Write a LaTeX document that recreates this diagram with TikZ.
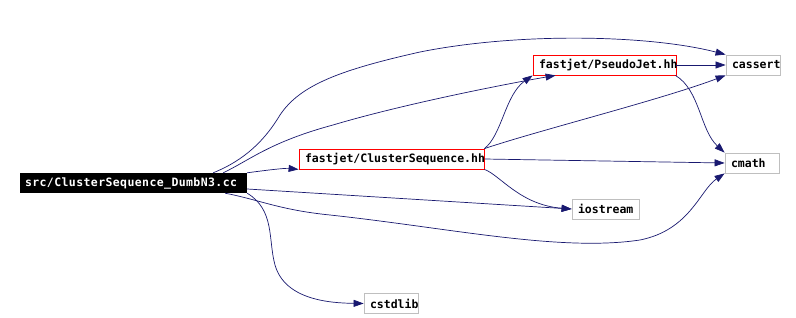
\documentclass[tikz,border=0pt]{standalone}
\usepackage{fontspec}
\usepackage{xcolor}
\newfontfamily\codefont{DejaVu Sans Mono}
\newfontfamily\srccodefont[LetterSpace=3.5]{DejaVu Sans Mono}
\usetikzlibrary{arrows.meta}
\definecolor{edgeblue}{HTML}{191970}
\definecolor{sysgray}{HTML}{BFBFBF}

\begin{document}
\begin{tikzpicture}[x=1pt,y=-1pt,>={Triangle[length=10pt,width=7pt]},
  every node/.style={font=\codefont\bfseries\fontsize{11.5}{12}\selectfont,inner xsep=6pt,inner ysep=0pt,
    minimum height=20pt,align=left},
  srcfile/.style={fill=black,text=white,inner xsep=5pt,font=\srccodefont\bfseries\fontsize{11.5}{12}\selectfont},
  hdrfile/.style={draw=red,fill=white,line width=0.8pt},
  sysfile/.style={draw=sysgray,fill=white,line width=0.8pt},
  dep/.style={draw=edgeblue,line width=0.7pt,->,edgeblue}]
\path[fill=white,use as bounding box] (0,0) rectangle (796,318);
% files
\node[srcfile,text width=217pt] (src) at (133.5,183) {src/ClusterSequence\_DumbN3.cc};
\node[hdrfile,text width=173pt] (cs) at (391.5,159) {fastjet/ClusterSequence.hh};
\node[hdrfile,text width=131pt] (pj) at (604.5,65) {fastjet/PseudoJet.hh};
\node[sysfile,text width=42pt] (cassert) at (753,65) {cassert};
\node[sysfile,text width=42pt] (cmath) at (752,163) {cmath};
\node[sysfile,text width=55pt] (iostream) at (605.5,209) {iostream};
\node[sysfile,text width=42pt] (cstdlib) at (391,303.5) {cstdlib};
% includes of the source file
\draw[dep] (src.north east) .. controls (268,170) and (285,168) .. (cs.south west);
\draw[dep] ([xshift=-24pt]src.north east) .. controls (250,160) and (270,142) .. (333,125)
  .. controls (400,105) and (500,85) .. ([xshift=23pt]pj.south west);
\draw[dep] ([xshift=-34pt]src.north east) .. controls (245,160) and (265,140) .. (280,115)
  .. controls (300,85) and (340,70) .. (420,52) .. controls (520,32) and (650,35) .. (cassert.north west);
\draw[dep] ([yshift=-6pt]src.east) -- (iostream.west);
\draw[dep] ([xshift=-22pt]src.south east) .. controls (260,200) and (280,210) .. (330,215)
  .. controls (450,228) and (560,252) .. (640,240) .. controls (690,230) and (700,190) .. (cmath.south west);
\draw[dep] (src.south east) .. controls (275,210) and (268,240) .. (275,265)
  .. controls (285,300) and (330,303) .. (cstdlib.west);
% includes of the headers
\draw[dep] (cs.north east) .. controls (502,135) and (505,95) .. (pj.south west);
\draw[dep] (cs.north east) .. controls (540,130) and (660,100) .. (cassert.south west);
\draw[dep] (cs.east) -- (cmath.west);
\draw[dep] (cs.south east) .. controls (500,175) and (520,205) .. (iostream.west);
\draw[dep] (pj.east) -- (cassert.west);
\draw[dep] ([xshift=-1pt]pj.south east) .. controls (700,90) and (700,130) .. (cmath.north west);
\end{tikzpicture}
\end{document}
